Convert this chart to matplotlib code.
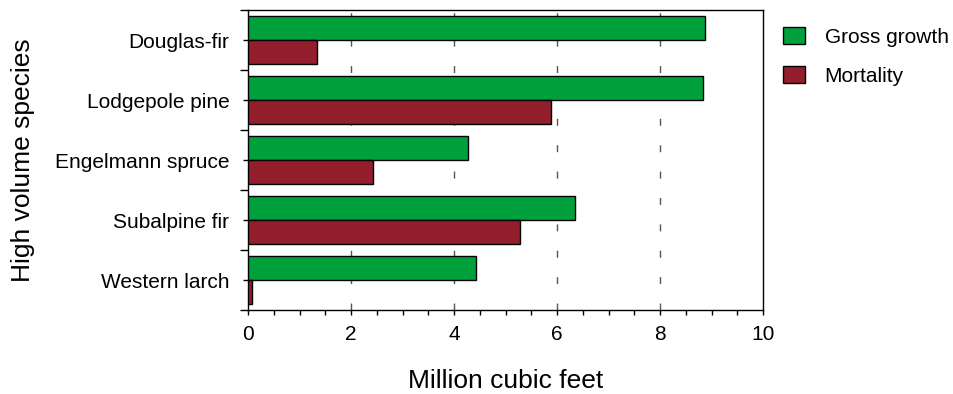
import numpy as np
import matplotlib.pyplot as plt
from matplotlib.patches import Patch
from matplotlib.ticker import MultipleLocator

plt.rcParams['font.family'] = ['Liberation Sans', 'DejaVu Sans']

# values (million cubic feet)
species = ["Douglas-fir", "Lodgepole pine", "Engelmann spruce", "Subalpine fir", "Western larch"]
gross_growth = [8.88, 8.83, 4.27, 6.34, 4.43]
mortality = [1.33, 5.88, 2.43, 5.28, 0.08]
x_ticks = [0, 2, 4, 6, 8, 10]

green = "#00A03D"
red = "#931F2D"

fig = plt.figure(figsize=(9.54, 3.94), dpi=100)
ax = fig.add_axes([0.26, 0.2132, 0.5398, 0.7614])

y = np.arange(len(species))
h = 0.4
ax.barh(y - h / 2, gross_growth, height=h, color=green, edgecolor="black", linewidth=1, zorder=3)
ax.barh(y + h / 2, mortality, height=h, color=red, edgecolor="black", linewidth=1, zorder=3)

ax.set_xlim(0, 10)
ax.set_ylim(len(species) - 0.5, -0.5)

# dashed verticals at the inner major ticks
for v in x_ticks[1:-1]:
    ax.axvline(v, color="#555555", linestyle=(0, (5, 14)), linewidth=1, zorder=1)

ax.set_xticks(x_ticks)
ax.xaxis.set_minor_locator(MultipleLocator(0.5))
ax.set_yticks(y)
ax.set_yticklabels(species)
ax.set_yticks(np.arange(-0.5, len(species)), minor=True)

ax.tick_params(axis="both", which="major", labelsize=15, direction="out", width=1)
ax.tick_params(axis="x", which="both", length=3.5, width=1)
ax.tick_params(axis="y", which="major", length=3.5, pad=10)
ax.tick_params(axis="y", which="minor", length=6, width=1)
ax.tick_params(axis="x", which="major", pad=7)

for s in ax.spines.values():
    s.set_linewidth(1)

ax.set_xlabel("Million cubic feet", fontsize=19, labelpad=18)
ax.set_ylabel("High volume species", fontsize=19, labelpad=14)

handles = [Patch(facecolor=green, edgecolor="black", linewidth=1),
           Patch(facecolor=red, edgecolor="black", linewidth=1)]
fig.legend(handles, ["Gross growth", "Mortality"], loc="upper left",
           bbox_to_anchor=(783 / 954, 1 - 27 / 394), frameon=False, fontsize=15,
           handlelength=1.05, handleheight=0.85, handletextpad=0.95,
           labelspacing=0.95, borderpad=0, borderaxespad=0)

fig.savefig("out.png", dpi=100)
